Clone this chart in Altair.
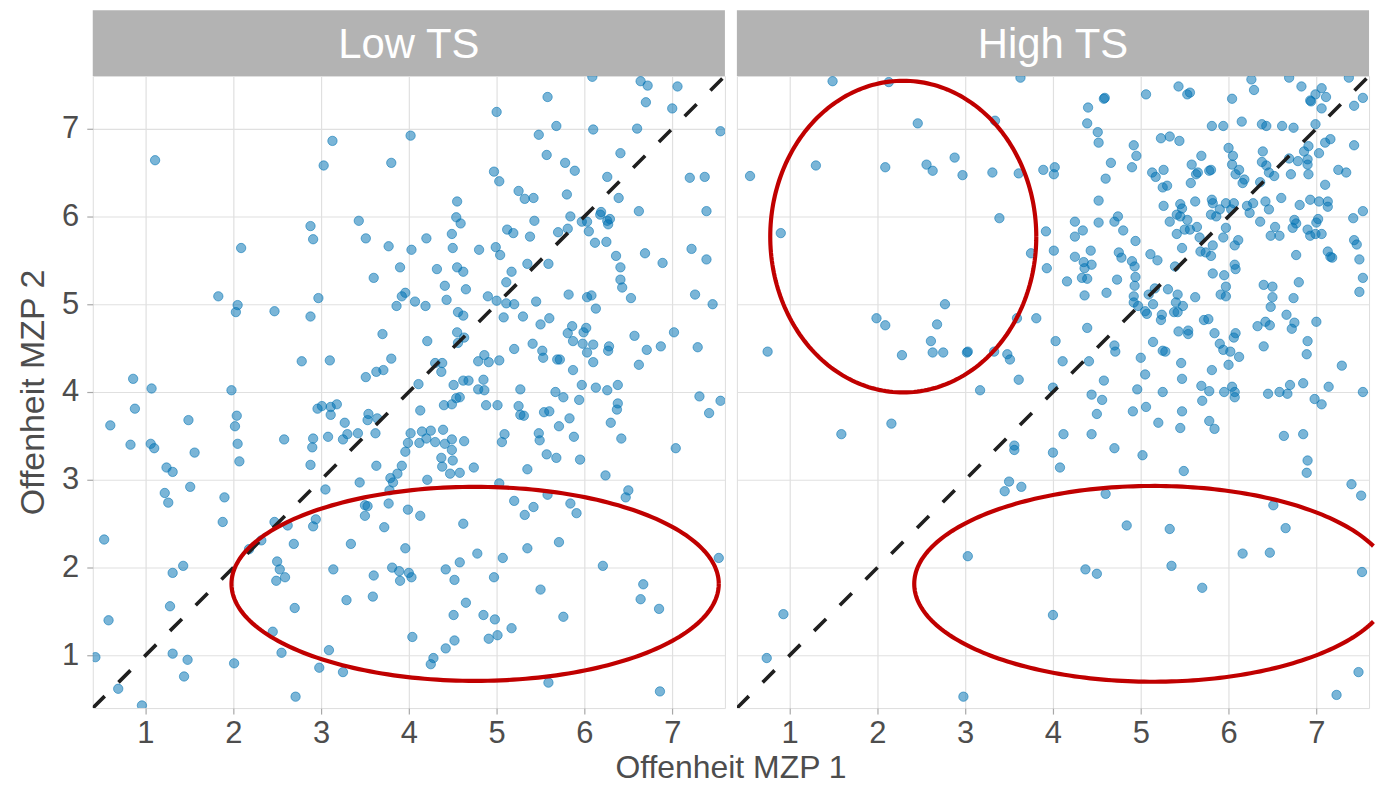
import altair as alt
import numpy as np
import pandas as pd

# ---------------- data ----------------
panels = ["Low TS", "High TS"]

low_x = [1.11, 3.13, 3.03, 4.02, 3.80, 2.88, 2.91, 3.43, 3.51, 3.77, 4.03, 2.09, 3.90, 3.60, 3.96, 3.92, 3.86, 4.07,
         1.83, 2.05, 2.03, 2.47, 2.97, 2.88, 3.70, 2.78, 3.10, 3.80, 3.51, 3.63, 3.71, 0.86, 1.07, 1.98,
         6.09, 6.64, 6.72, 7.06, 5.58, 6.70, 7.00, 5.00, 5.68, 6.10, 6.60, 7.55, 5.48, 5.57, 6.41, 5.78, 5.89, 4.97,
         5.03, 6.26, 7.20, 7.37, 5.25, 5.32, 5.42, 5.80, 6.39, 4.55, 4.54, 4.59, 6.62, 7.39, 6.19, 6.18, 6.26, 6.29,
         6.27, 5.84, 5.97, 6.03, 6.05, 5.43, 5.12, 5.19, 5.38, 5.70, 5.81, 6.12, 6.25, 4.49, 4.20, 4.50, 4.80, 4.99,
         5.04, 6.69, 6.89, 7.22, 7.39, 6.36, 6.41, 6.41, 6.43, 6.53, 5.35, 5.59, 5.17, 5.11, 4.32, 4.55, 4.62, 4.41,
         4.65, 4.43, 4.19, 4.90, 5.00, 5.11, 5.20, 5.45, 5.82, 6.03, 6.08, 6.13, 7.26, 7.46, 4.56, 4.62, 5.08, 5.30,
         5.60, 5.50, 5.86, 5.81, 6.02, 5.99, 5.87, 5.98, 6.10, 6.03, 6.10, 6.28, 6.27, 6.57, 6.71, 6.87, 7.02, 7.29,
         6.62, 4.55, 4.63, 4.56, 4.21, 5.41, 5.52, 5.53, 5.20, 5.69, 5.72, 5.87, 5.03, 4.86, 4.79, 4.91, 4.30, 4.38,
         4.37, 4.11, 4.51, 4.62, 4.68, 4.85, 4.79, 4.86, 5.27, 5.67, 5.97, 6.13, 6.26, 6.38, 7.31,
         0.88, 0.60, 1.49, 2.04, 2.02, 2.05, 2.07, 0.83, 1.06, 1.10, 1.56, 1.24, 1.31, 1.22, 1.26, 1.51, 1.90, 1.88,
         0.53, 1.43, 1.31, 1.28, 0.58, 1.31, 1.48, 1.44, 2.01, 0.43, 0.69, 0.96, 2.71, 2.58, 2.96, 3.01, 3.11, 3.11,
         3.18, 2.91, 2.90, 2.88, 3.08, 3.27, 3.25, 3.30, 3.42, 3.54, 3.53, 3.64, 3.62, 3.63, 3.44, 3.05, 2.47, 2.62,
         2.32, 2.18, 2.94, 2.91, 2.69, 2.50, 2.53, 2.59, 2.49, 3.14, 2.70, 2.45, 2.55, 3.09, 2.98, 3.25, 3.34, 3.29,
         3.60, 3.59, 3.72, 3.50, 3.53, 3.50, 3.77, 3.81, 3.89, 3.90, 4.00, 3.96, 3.99, 4.04, 3.79, 3.82, 3.87, 3.92,
         3.96, 3.99, 4.02, 3.78, 4.03,
         4.54, 4.58, 5.76, 5.94, 6.38, 6.37, 6.30, 6.42, 7.55, 7.42, 7.04, 4.13, 4.40, 4.49, 4.88, 5.01, 5.25, 5.27,
         5.31, 5.54, 5.60, 5.71, 5.83, 5.88, 5.95, 5.48, 5.49, 5.57, 5.68, 5.35, 6.24, 5.09, 5.06, 4.15, 4.25, 4.39,
         4.12, 4.20, 4.30, 4.41, 4.49, 4.63, 4.49, 4.37, 4.50, 4.38, 4.47, 4.58, 4.74, 4.21, 5.03, 5.58, 5.20, 5.42,
         5.32, 5.84, 5.91, 6.50, 6.47, 4.13, 4.62, 5.71, 5.35, 4.78, 5.07, 4.58, 4.42, 4.52, 4.97, 5.50, 6.21, 6.67,
         6.64, 6.85, 7.53, 4.65, 4.51, 4.85, 4.98, 5.76, 5.17, 5.01, 4.91, 4.52, 4.42, 4.28, 4.25, 5.59, 6.86]
low_y = [6.64, 6.86, 6.58, 6.92, 6.61, 5.89, 5.74, 5.95, 5.75, 5.66, 5.62, 5.64, 5.42, 5.30, 5.13, 5.09, 4.98, 5.03,
         5.09, 4.99, 4.91, 4.92, 5.07, 4.86, 4.66, 4.35, 4.36, 4.38, 4.17, 4.23, 4.25, 4.15, 4.04, 4.02,
         7.59, 7.54, 7.49, 7.48, 7.36, 7.30, 7.23, 7.19, 7.03, 6.99, 7.00, 6.97, 6.93, 6.70, 6.72, 6.61, 6.52, 6.51,
         6.40, 6.45, 6.44, 6.45, 6.29, 6.20, 6.21, 6.25, 6.21, 6.17, 5.99, 5.92, 6.06, 6.06, 6.05, 6.02, 5.95, 5.97,
         5.91, 6.00, 5.94, 5.94, 5.83, 5.95, 5.85, 5.81, 5.77, 5.82, 5.86, 5.70, 5.71, 5.80, 5.75, 5.64, 5.62, 5.65,
         5.56, 5.58, 5.47, 5.63, 5.51, 5.55, 5.42, 5.28, 5.19, 5.07, 5.46, 5.46, 5.37, 5.25, 5.40, 5.42, 5.37, 5.21,
         5.17, 5.05, 4.98, 5.09, 5.04, 5.01, 5.00, 5.03, 5.11, 5.08, 5.10, 4.95, 5.11, 5.00, 4.91, 4.87, 4.85, 4.86,
         4.84, 4.77, 4.75, 4.67, 4.73, 4.68, 4.58, 4.55, 4.54, 4.45, 4.34, 4.52, 4.47, 4.64, 4.48, 4.52, 4.68, 4.51,
         4.31, 4.68, 4.62, 4.56, 4.58, 4.55, 4.47, 4.39, 4.49, 4.37, 4.37, 4.25, 4.36, 4.42, 4.35, 4.34, 4.33, 4.33,
         4.23, 4.09, 4.08, 4.13, 4.13, 4.14, 4.03, 4.02, 4.03, 4.00, 4.08, 4.05, 4.02, 4.08, 3.95,
         3.81, 3.62, 3.68, 3.73, 3.61, 3.41, 3.21, 3.40, 3.41, 3.36, 3.31, 3.14, 3.09, 2.85, 2.74, 2.92, 2.80, 2.52,
         2.32, 2.02, 1.94, 1.56, 1.40, 1.02, 0.95, 0.76, 0.91, 0.98, 0.62, 0.43, 0.53, 3.46, 3.81, 3.84, 3.83, 3.74,
         3.86, 3.47, 3.37, 3.17, 3.49, 3.65, 3.46, 3.52, 3.53, 3.75, 3.68, 3.70, 3.53, 3.16, 2.97, 2.89, 2.52, 2.48,
         2.31, 2.21, 2.55, 2.47, 2.27, 2.07, 1.98, 1.89, 1.85, 1.98, 1.54, 1.27, 1.03, 1.06, 0.86, 0.81, 2.27, 1.63,
         1.91, 1.67, 2.46, 2.71, 2.70, 2.59, 2.73, 2.00, 1.96, 1.85, 1.94, 2.22, 2.66, 1.21, 3.02, 2.97, 3.07, 3.16,
         3.32, 3.42, 3.53, 2.88, 1.89,
         3.93, 3.94, 3.94, 3.91, 3.87, 3.80, 3.65, 3.47, 3.90, 3.76, 3.36, 3.79, 3.85, 3.86, 3.85, 3.85, 3.84, 3.74,
         3.73, 3.77, 3.78, 3.61, 3.70, 3.49, 3.23, 3.53, 3.45, 3.29, 3.25, 3.12, 3.05, 3.52, 3.43, 3.55, 3.56, 3.57,
         3.42, 3.47, 3.43, 3.41, 3.46, 3.44, 3.34, 3.25, 3.22, 3.15, 3.07, 3.08, 3.14, 3.00, 2.96, 2.83, 2.76, 2.69,
         2.60, 2.73, 2.62, 2.88, 2.80, 2.59, 2.50, 2.29, 2.22, 2.16, 2.11, 2.06, 1.98, 1.86, 1.89, 1.75, 2.02, 1.81,
         1.64, 1.53, 2.11, 1.60, 1.46, 1.46, 1.41, 1.44, 1.31, 1.23, 1.19, 1.17, 1.08, 0.97, 0.90, 0.69, 0.59]

high_x = [1.49, 2.13, 3.63, 2.46, 3.34, 1.30, 2.09, 2.56, 2.63, 2.88, 2.97, 3.31, 3.61, 3.89, 0.55, 3.39, 0.90, 3.92,
          3.75, 3.93, 2.77, 1.99, 2.09, 2.68, 2.61, 2.63, 2.75, 2.28, 3.02, 3.03, 3.33, 3.48, 3.51, 3.59, 3.81, 3.61,
          3.17, 4.00, 0.75,
          4.58, 4.59, 4.40, 4.39, 4.51, 4.52, 5.06, 5.43, 5.53, 5.56, 5.23, 5.33, 5.44, 4.92, 4.95, 4.90, 4.66, 4.60,
          4.02, 4.01, 5.13, 5.17, 5.26, 5.25, 5.30, 5.69, 5.58, 5.63, 5.65, 5.57, 5.62, 4.52, 5.26, 5.45, 5.41, 5.45,
          5.47, 5.33, 5.53, 5.50, 5.56, 5.64, 5.67, 5.41, 4.74, 4.70, 4.52, 4.80, 4.25, 4.34, 4.25, 4.01, 4.94, 5.47,
          5.68, 5.74, 5.39, 5.11, 5.19, 4.75, 4.78, 4.43, 4.25, 4.35, 4.44, 4.36, 4.33, 4.39, 4.16, 4.36, 4.61, 4.73,
          4.90, 4.93, 4.94, 4.93, 4.92, 4.92, 4.97, 5.05, 5.07, 5.09, 5.16, 5.14, 5.31, 5.42, 5.40, 5.48, 5.38, 5.42,
          5.62, 5.24, 5.23, 5.72, 5.43, 5.54, 5.54, 5.14, 5.25, 5.28, 5.46, 5.47, 5.69, 5.00, 5.05, 4.96, 5.25, 4.39,
          4.03, 4.11, 4.41, 4.70, 4.71, 4.58, 4.44,
          6.26, 6.29, 6.69, 6.83, 6.04, 7.37, 7.06, 6.99, 7.11, 6.94, 6.93, 7.06, 7.53, 7.43, 5.81, 5.94, 6.15, 6.38,
          6.43, 6.61, 6.74, 6.99, 7.16, 7.10, 7.43, 6.00, 6.05, 6.04, 6.12, 6.08, 6.18, 6.16, 5.78, 5.80, 6.39, 6.38,
          6.43, 6.46, 6.52, 6.36, 6.71, 6.69, 6.79, 6.86, 6.91, 6.90, 6.90, 6.91, 7.03, 7.25, 7.34, 7.10, 6.60, 5.81,
          5.82, 5.90, 5.80, 5.86, 5.97, 6.06, 6.03, 6.21, 6.24, 6.28, 6.42, 6.46, 6.36, 6.81, 6.93, 7.03, 7.13, 7.13,
          7.53, 7.42, 6.75, 6.77, 6.73, 6.90, 6.93, 6.99, 7.06, 7.02, 7.00, 6.53, 6.48, 6.58, 5.97, 5.94, 6.11, 6.07,
          5.82, 5.80, 7.43, 7.46, 6.77, 7.13, 7.16, 7.18, 7.49, 7.53, 7.49, 6.07, 6.08, 5.82, 5.95, 5.97, 5.91, 5.97,
          6.40, 6.50, 6.50, 6.48, 6.80, 6.74, 6.66, 6.75, 6.72, 7.00, 6.33, 6.42, 6.47, 5.77, 5.84, 6.06, 6.08, 5.90,
          5.94, 6.02, 6.12, 6.00, 5.81, 6.40, 6.90, 6.89, 7.29, 5.78, 5.95, 6.04, 6.07, 6.45, 6.58, 6.67, 6.70, 6.85,
          7.14, 7.53,
          4.56, 4.50, 5.06, 4.91, 5.20, 5.47, 5.45, 5.70, 5.78, 5.84, 6.07, 6.98, 7.06, 4.12, 4.44, 4.08, 4.70, 5.02,
          5.49, 6.63, 6.85, 6.90, 6.89, 7.40, 7.51, 4.60, 6.51, 4.84, 5.33, 6.65, 6.16, 6.47, 4.37, 4.50, 5.35, 5.70,
          7.52, 7.48, 7.23,
          1.59, 2.16, 3.56, 3.56, 4.00, 3.50, 3.64, 3.45, 3.03, 0.93, 0.74, 2.98, 4.00]
high_y = [7.54, 7.53, 7.58, 7.06, 7.09, 6.58, 6.56, 6.59, 6.52, 6.67, 6.47, 6.50, 6.49, 6.53, 6.46, 5.98, 5.81, 5.83,
          5.58, 5.41, 5.00, 4.84, 4.76, 4.77, 4.58, 4.45, 4.45, 4.42, 4.45, 4.46, 4.46, 4.43, 4.37, 4.84, 4.84, 4.14,
          4.02, 4.05, 4.46,
          7.34, 7.35, 7.24, 7.06, 6.96, 6.84, 7.39, 7.48, 7.39, 7.41, 6.89, 6.91, 6.86, 6.81, 6.69, 6.56, 6.61, 6.43,
          6.56, 6.48, 6.50, 6.45, 6.53, 6.33, 6.35, 6.69, 6.59, 6.48, 6.50, 6.38, 6.17, 6.18, 6.12, 6.14, 6.02, 6.00,
          6.09, 5.94, 5.96, 5.85, 5.85, 5.88, 5.76, 5.80, 6.00, 5.94, 5.93, 5.84, 5.94, 5.84, 5.77, 5.61, 5.72, 5.64,
          5.60, 5.59, 5.43, 5.57, 5.50, 5.59, 5.53, 5.61, 5.54, 5.48, 5.45, 5.41, 5.30, 5.29, 5.26, 5.10, 5.13, 5.28,
          5.49, 5.43, 5.31, 5.21, 5.09, 5.02, 4.98, 4.92, 4.89, 5.11, 5.18, 5.00, 5.17, 5.11, 5.02, 4.98, 4.91, 4.91,
          5.08, 4.88, 4.82, 4.82, 4.69, 4.70, 4.66, 4.57, 4.47, 4.46, 4.33, 4.15, 4.07, 4.39, 4.20, 4.03, 4.00, 4.73,
          4.58, 4.35, 4.35, 4.53, 4.46, 4.13, 3.97,
          7.56, 7.44, 7.58, 7.48, 7.34, 7.58, 7.46, 7.39, 7.36, 7.31, 7.32, 7.23, 7.35, 7.26, 7.03, 7.03, 7.08, 7.05,
          7.03, 7.03, 7.01, 7.05, 6.88, 6.84, 6.81, 6.78, 6.69, 6.59, 6.53, 6.48, 6.42, 6.38, 6.52, 6.53, 6.74, 6.62,
          6.58, 6.50, 6.46, 6.39, 6.48, 6.66, 6.63, 6.74, 6.80, 6.65, 6.59, 6.48, 6.72, 6.53, 6.50, 6.36, 6.21, 6.19,
          6.15, 6.08, 6.02, 6.00, 6.15, 6.15, 6.08, 6.12, 6.04, 6.15, 6.17, 6.08, 5.94, 6.13, 6.19, 6.17, 6.17, 6.11,
          6.06, 5.98, 5.96, 5.92, 5.87, 5.85, 5.78, 5.80, 5.80, 5.97, 5.93, 5.88, 5.78, 5.78, 5.87, 5.76, 5.73, 5.67,
          5.67, 5.55, 5.73, 5.68, 5.56, 5.60, 5.54, 5.53, 5.51, 5.30, 5.14, 5.45, 5.40, 5.35, 5.33, 5.20, 5.11, 5.09,
          5.22, 5.20, 5.08, 4.97, 5.25, 5.07, 4.88, 4.79, 4.72, 4.80, 4.75, 4.80, 4.76, 4.83, 4.67, 4.62, 4.67, 4.55,
          4.48, 4.46, 4.40, 4.31, 4.25, 4.52, 4.58, 4.43, 4.30, 4.01, 4.00, 4.06, 4.00, 3.98, 4.00, 3.98, 4.08, 4.10,
          4.06, 4.00,
          3.91, 3.75, 3.83, 3.78, 3.65, 3.78, 3.59, 3.90, 3.67, 3.58, 3.94, 3.92, 3.86, 3.52, 3.52, 3.14, 3.36, 3.28,
          3.10, 3.50, 3.52, 3.22, 3.08, 2.95, 2.82, 2.84, 2.71, 2.48, 2.44, 2.45, 2.16, 2.17, 1.98, 1.93, 2.02, 1.77,
          1.95, 0.81, 0.55,
          3.52, 3.64, 3.39, 3.34, 3.31, 2.98, 2.92, 2.87, 2.13, 1.47, 0.97, 0.53, 1.46]

# red ellipses drawn on the picture: centre x, centre y, half width, half height (data units)
ell_panel = ["Low TS", "High TS", "High TS"]
ell_cx = [4.755, 2.295, 5.14]
ell_cy = [1.815, 5.77, 1.815]
ell_rx = [2.775, 1.515, 2.72]
ell_ry = [1.105, 1.775, 1.115]
ell_xmax = 7.65  # the picture cuts the right ellipse at its right edge

axis_range = [0.4, 7.6]
tick_values = [1, 2, 3, 4, 5, 6, 7]
x_title = "Offenheit MZP 1"
y_title = "Offenheit MZP 2"

# ---------------- styling ----------------
W = 634
H = 634
HEAD = 66
FONT = "Liberation Sans"
GREY_TXT = "#4d4d4d"
POINT = "#0072B2"

xs = alt.Scale(domain=axis_range, nice=False, zero=False)
ys = alt.Scale(domain=axis_range, nice=False, zero=False)


def ellipse_rows(label):
    rows = []
    for k, (p, cx, cy, rx, ry) in enumerate(zip(ell_panel, ell_cx, ell_cy, ell_rx, ell_ry)):
        if p != label:
            continue
        c = (ell_xmax - cx) / rx
        t0 = float(np.arccos(c)) if c < 1 else 0.0
        t = np.linspace(t0, 2 * np.pi - t0, 241)
        for i, tt in enumerate(t):
            rows.append({"e": k, "i": i, "x": cx + rx * np.cos(tt), "y": cy + ry * np.sin(tt)})
    return pd.DataFrame(rows)


def make_panel(label, px, py, show_y):
    pts = pd.DataFrame({"x": px, "y": py})
    xaxis = alt.Axis(values=tick_values, title=None, grid=True, domain=False,
                     ticks=True, tickSize=6, tickColor="#a8a8a8", tickWidth=1.2,
                     labelFontSize=31, labelColor=GREY_TXT, labelFont=FONT, labelPadding=5,
                     gridColor="#e0e0e0", gridWidth=1.2)
    if show_y:
        yaxis = alt.Axis(values=tick_values, title=y_title, grid=True, domain=False,
                         ticks=True, tickSize=6, tickColor="#a8a8a8", tickWidth=1.2,
                         labelFontSize=31, labelColor=GREY_TXT, labelFont=FONT, labelPadding=8,
                         titleFontSize=34, titleColor=GREY_TXT, titleFont=FONT,
                         titleFontWeight="normal", titlePadding=11,
                         gridColor="#e0e0e0", gridWidth=1.2)
    else:
        yaxis = alt.Axis(values=tick_values, title=None, grid=True, domain=False,
                         ticks=False, labels=False, gridColor="#e0e0e0", gridWidth=1.2)

    X = alt.X("x:Q", scale=xs, axis=xaxis)
    Y = alt.Y("y:Q", scale=ys, axis=yaxis)

    points = alt.Chart(pts).mark_circle(
        size=88, fill=POINT, fillOpacity=0.52, stroke=POINT, strokeOpacity=0.55,
        strokeWidth=1, clip=True
    ).encode(x=X, y=Y)

    diag = alt.Chart(pd.DataFrame({"x": axis_range, "y": axis_range})).mark_line(
        color="#1f1f1f", strokeWidth=3.6, strokeDash=[17, 19.5], clip=True
    ).encode(x=X, y=Y)

    ell = alt.Chart(ellipse_rows(label)).mark_line(
        color="#c00000", strokeWidth=4.2, clip=False
    ).encode(x=X, y=Y, order="i:Q", detail="e:N")

    head_df = pd.DataFrame({"label": [label]})
    head_rect = alt.Chart(head_df).mark_rect(color="#b3b3b3").encode(
        x=alt.value(0), x2=alt.value(W), y=alt.value(-HEAD), y2=alt.value(0)
    )
    head_text = alt.Chart(head_df).mark_text(
        color="white", fontSize=42, font=FONT, align="center", baseline="middle"
    ).encode(x=alt.value(W / 2), y=alt.value(-HEAD / 2 + 2), text="label:N")

    layers = [head_rect, head_text, points, diag, ell]
    if show_y:
        title_txt = alt.Chart(pd.DataFrame({"t": [x_title]})).mark_text(
            color=GREY_TXT, fontSize=32, font=FONT, align="center", baseline="middle"
        ).encode(x=alt.value(W + 6), y=alt.value(H + 60), text="t:N")
        layers.append(title_txt)
    return alt.layer(*layers).properties(width=W, height=H)


left = make_panel(panels[0], low_x, low_y, True)
right = make_panel(panels[1], high_x, high_y, False)

chart = alt.hconcat(left, right, spacing=12, bounds="flush").properties(
    padding={"left": 8, "top": 0, "right": 0, "bottom": 0}
).configure_view(stroke=None).configure(background="white")

chart.save("out.html", embed_options={"renderer": "svg", "actions": False})
